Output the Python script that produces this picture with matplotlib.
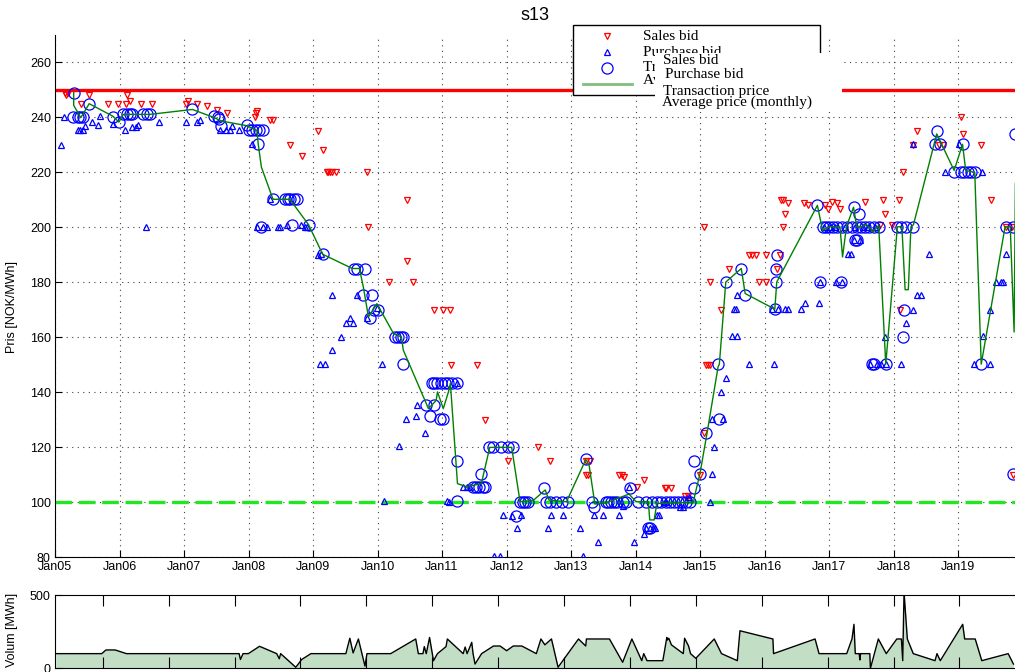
import matplotlib.pyplot as plt
from matplotlib.lines import Line2D
from matplotlib.patches import Rectangle

plt.rcParams['font.family'] = ['Liberation Sans', 'DejaVu Sans']

# salgsbud (år, pris)
sales_t = [2005.15, 2005.17, 2005.20, 2005.41, 2005.53, 2005.82, 2005.97, 2006.10, 2006.12, 2006.16,
           2006.34, 2006.50, 2007.03, 2007.06, 2007.20, 2007.35, 2007.51, 2007.67, 2008.10, 2008.12,
           2008.13, 2008.33, 2008.38, 2008.65, 2008.83, 2009.08, 2009.16, 2009.21, 2009.24, 2009.27,
           2009.30, 2009.35, 2009.83, 2009.86, 2010.18, 2010.46, 2010.46, 2010.55, 2010.88, 2011.02,
           2011.12, 2011.14, 2011.55, 2011.66, 2012.03, 2012.49, 2012.67, 2013.23, 2013.29, 2013.23,
           2013.26, 2013.75, 2013.79, 2013.82, 2014.02, 2014.13, 2014.45, 2014.48, 2014.55, 2014.77,
           2014.81, 2015.00, 2015.06, 2015.10, 2015.13, 2015.15, 2015.06, 2015.16, 2015.33, 2015.45,
           2015.76, 2015.80, 2015.87, 2016.02, 2015.92, 2016.03, 2016.19, 2016.24, 2016.25, 2016.29,
           2016.36, 2016.32, 2016.28, 2016.61, 2016.68, 2016.94, 2016.99, 2017.04, 2017.12, 2017.17,
           2017.56, 2017.79, 2017.84, 2017.87, 2017.97, 2018.09, 2018.10, 2018.14, 2018.31, 2018.37,
           2018.71, 2018.76, 2019.04, 2019.07, 2019.36, 2019.51, 2019.75, 2019.83, 2019.85]
sales_p = [249, 248, 249, 245, 248, 245, 245, 245, 248, 246,
           245, 245, 245, 246, 245, 244, 242.8, 241.7, 240, 241.7,
           242.2, 239, 239, 229.8, 225.8, 235, 228, 220, 220, 220,
           220, 220, 220, 200, 180, 209.8, 187.7, 180, 170, 170,
           170, 150, 150, 130, 115, 120, 115, 115, 115, 110,
           110, 110, 110, 109, 105.6, 108, 105, 105, 105, 102.3,
           102.3, 110, 125, 150, 150, 150, 200, 180, 170, 185,
           190, 190, 190, 190, 180, 180, 185, 190, 210, 210,
           208.8, 205, 200, 208.8, 208, 208, 206.8, 209.2, 208.8, 206.8,
           209.2, 201, 210, 205, 201, 210, 170, 220, 230, 235,
           230, 230, 240, 234, 230, 210, 200, 200, 110]

# kjøpsbud
purch_t = [2005.10, 2005.14, 2005.36, 2005.39, 2005.43, 2005.47, 2005.57, 2005.67, 2005.69, 2005.90,
           2006.09, 2006.19, 2006.26, 2006.29, 2006.41, 2006.62, 2007.03, 2007.20, 2007.25, 2007.56,
           2007.65, 2007.72, 2007.74, 2007.86, 2008.05, 2008.13, 2008.23, 2008.28, 2008.33, 2008.46,
           2008.49, 2008.59, 2008.82, 2008.88, 2008.90, 2009.08, 2009.12, 2009.11, 2009.19, 2009.29,
           2009.30, 2009.44, 2009.51, 2009.58, 2009.62, 2009.68, 2009.83, 2009.99, 2010.07, 2010.10,
           2010.34, 2010.44, 2010.60, 2010.61, 2010.73, 2011.07, 2011.11, 2011.24, 2011.33, 2011.38,
           2011.43, 2011.80, 2011.90, 2011.95, 2012.09, 2012.17, 2012.23, 2012.65, 2012.69, 2012.88,
           2013.14, 2013.18, 2013.35, 2013.42, 2013.49, 2013.75, 2013.81, 2013.90, 2013.98, 2014.13,
           2014.17, 2014.22, 2014.27, 2014.30, 2014.33, 2014.36, 2014.46, 2014.48, 2014.69, 2014.73,
           2014.83, 2015.15, 2015.18, 2015.22, 2015.18, 2015.36, 2015.32, 2015.40, 2015.76, 2016.14,
           2015.49, 2015.57, 2015.52, 2015.56, 2015.58, 2016.11, 2016.21, 2016.32, 2016.37, 2016.56,
           2016.63, 2016.85, 2016.86, 2017.11, 2017.20, 2017.30, 2017.34, 2017.38, 2017.48, 2017.87,
           2017.64, 2017.74, 2017.81, 2017.88, 2018.11, 2018.19, 2018.31, 2018.36, 2018.43, 2018.55,
           2018.80, 2019.02, 2018.31, 2019.37, 2019.50, 2019.39, 2019.25, 2019.50, 2019.59, 2019.66,
           2019.70, 2019.74, 2016.92, 2017.02, 2017.10, 2017.25, 2017.41, 2017.52, 2017.60, 2017.72]
purch_p = [230, 240, 235.3, 235.3, 235.5, 236.7, 238.3, 237.3, 240.4, 237.7,
           235.3, 236.5, 236.5, 237.3, 200.2, 238.3, 238.3, 238.3, 239.2, 235.5,
           235.3, 235.3, 237, 235.3, 230.2, 200.2, 200.2, 200.2, 210.2, 200,
           200, 201, 201, 200.2, 200.2, 190, 190.2, 150.4, 150.4, 155.5,
           175.3, 160.2, 165.3, 167.1, 165.3, 175.3, 167.1, 170.7, 150.4, 100.5,
           120.4, 130.2, 131.4, 135.3, 125.3, 100.5, 100.1, 143.2, 105.6, 105.6,
           105.6, 80.4, 80.4, 95.3, 95, 90.4, 95.3, 90.4, 95.3, 95.3,
           90.4, 80.4, 95.3, 85.6, 95.3, 95.3, 98.7, 105.6, 85.6, 88.4,
           90.4, 90.4, 90.4, 90.4, 95.3, 95.3, 100.1, 100.1, 98.3, 98.3,
           101.7, 100.1, 110.2, 120.1, 130.2, 130.2, 140.1, 145.3, 150.2, 150.2,
           160.4, 160.4, 170.2, 170.2, 175.3, 170.2, 170.2, 170.2, 170.2, 170.2,
           172.3, 172.3, 180.1, 180.1, 180.1, 190.2, 190.2, 195.3, 195.3, 160.1,
           150.2, 150.2, 150.2, 150.2, 150.2, 165.2, 170, 175.3, 175.3, 190.2,
           220, 230.2, 230.2, 220, 170, 160.4, 150.2, 150.2, 180.1, 180.1,
           180.1, 190.2, 200, 200, 200, 200, 200, 200, 200, 200]

# transaksjoner
trans_t = [2005.29, 2005.28, 2005.36, 2005.39, 2005.43, 2005.53, 2005.90, 2005.99, 2006.05, 2006.11,
           2006.17, 2006.20, 2006.36, 2006.42, 2006.48, 2007.13, 2007.47, 2007.52, 2007.55, 2007.58,
           2007.97, 2008.00, 2008.06, 2008.12, 2008.16, 2008.23, 2008.15, 2008.20, 2008.38, 2008.57,
           2008.61, 2008.65, 2008.70, 2008.75, 2008.68, 2008.94, 2009.15, 2009.64, 2009.68, 2009.81,
           2009.77, 2009.92, 2009.88, 2009.95, 2010.01, 2010.27, 2010.32, 2010.36, 2010.40, 2010.39,
           2010.75, 2010.88, 2010.81, 2010.97, 2011.02, 2010.84, 2010.88, 2010.93, 2010.98, 2011.05,
           2011.10, 2011.16, 2011.24, 2011.23, 2011.23, 2011.48, 2011.53, 2011.58, 2011.63, 2011.67,
           2011.60, 2011.73, 2011.79, 2011.92, 2012.02, 2012.10, 2012.14, 2012.21, 2012.25, 2012.29,
           2012.34, 2012.58, 2012.62, 2012.67, 2012.77, 2012.86, 2012.96, 2013.23, 2013.33, 2013.36,
           2013.54, 2013.58, 2013.62, 2013.67, 2013.72, 2013.80, 2013.86, 2013.91, 2014.04, 2014.20,
           2014.23, 2014.17, 2014.26, 2014.33, 2014.40, 2014.47, 2014.54, 2014.60, 2014.66, 2014.72,
           2014.78, 2014.85, 2014.91, 2014.91, 2015.00, 2015.10, 2015.28, 2015.30, 2015.40, 2015.64,
           2015.69, 2016.16, 2016.18, 2016.18, 2016.19, 2016.82, 2016.86, 2016.90, 2016.95, 2017.00,
           2017.06, 2017.13, 2017.20, 2017.28, 2017.36, 2017.43, 2017.50, 2017.56, 2017.62, 2017.70,
           2017.77, 2017.38, 2017.47, 2017.40, 2017.44, 2017.19, 2017.66, 2017.70, 2017.88, 2018.06,
           2018.12, 2018.19, 2018.31, 2018.17, 2018.15, 2018.64, 2018.67, 2018.72, 2018.94, 2019.07,
           2019.04, 2019.09, 2019.15, 2019.20, 2019.26, 2019.36, 2019.75, 2019.86, 2019.88, 2019.85]
trans_p = [249, 240.1, 240.1, 240.1, 240.1, 245, 240.1, 238.3, 241.1, 241.1,
           241.1, 241.1, 241.1, 241.1, 241.1, 243.1, 240.4, 240.1, 239.5, 236.7,
           237.3, 235.3, 235.3, 235.3, 235.3, 235.3, 230.2, 200.2, 210.2, 210.2,
           210.2, 210.2, 210.2, 210.2, 201, 201, 190.2, 185, 185, 185,
           175.3, 175.3, 167.1, 170, 170, 160.1, 160.1, 160.1, 160.1, 150.2,
           135.3, 135.3, 131.4, 130.2, 130.2, 143.2, 143.2, 143.2, 143.2, 143.2,
           143.2, 143.2, 143.2, 115, 100.5, 105.3, 105.3, 105.3, 105.3, 105.3,
           110.2, 120.1, 120.1, 120.1, 120.1, 120.1, 95, 100.1, 100.1, 100.1,
           100.1, 105.2, 100.1, 100.1, 100.1, 100.1, 100.1, 115.5, 100.1, 98.3,
           100.1, 100.1, 100.1, 100.1, 100.1, 100.1, 100.1, 105.2, 100.1, 90.4,
           90.4, 100.1, 100.1, 100.1, 100.1, 100.1, 100.1, 100.1, 100.1, 100.1,
           100.1, 100.1, 105, 115, 110.2, 125.2, 150.2, 130.2, 180.1, 185,
           175.3, 170.2, 180.1, 185, 190, 208, 180, 200.2, 200.2, 200.2,
           200.2, 200.2, 200.2, 200.2, 200.2, 200.2, 200.2, 200.2, 200.2, 200.2,
           200.2, 207.3, 205, 195.3, 195.3, 180, 150.2, 150.2, 150.2, 200.2,
           200.2, 200.2, 200.2, 170, 160.1, 230.2, 235, 230.2, 220, 230.2,
           220, 220, 220, 220, 220, 150.2, 200.2, 200.2, 234, 110.2]

# gjennomsnittspris (måned)
avg_t = [2005.29, 2005.29, 2005.40, 2005.53, 2005.90, 2005.99, 2006.06, 2006.47, 2007.13, 2007.45,
         2007.58, 2007.97, 2008.13, 2008.15, 2008.20, 2008.38, 2008.64, 2008.93, 2009.15, 2009.61,
         2009.72, 2009.78, 2009.86, 2009.99, 2010.25, 2010.37, 2010.40, 2010.79, 2010.91, 2010.93,
         2011.02, 2011.10, 2011.13, 2011.24, 2011.38, 2011.61, 2011.74, 2012.08, 2012.21, 2012.42,
         2012.60, 2012.66, 2012.93, 2013.23, 2013.28, 2013.37, 2013.54, 2013.90, 2014.01, 2014.20,
         2014.22, 2014.29, 2014.33, 2014.90, 2014.92, 2015.00, 2015.11, 2015.28, 2015.30, 2015.40,
         2015.64, 2015.70, 2016.16, 2016.19, 2016.82, 2016.90, 2017.01, 2017.17, 2017.21, 2017.27,
         2017.38, 2017.43, 2017.50, 2017.58, 2017.68, 2017.77, 2017.88, 2018.06, 2018.13, 2018.18,
         2018.23, 2018.27, 2018.31, 2018.67, 2018.94, 2019.07, 2019.12, 2019.26, 2019.36, 2019.73,
         2019.81, 2019.87, 2019.89]
avg_p = [249, 244.4, 239.9, 245, 240.4, 238.3, 241.1, 241.1, 242.9, 240.1,
         238.7, 237, 235.3, 230.4, 221.9, 210.2, 210.2, 201, 190.2, 185,
         185, 178.3, 167.4, 172.2, 161.3, 160.1, 155.3, 134, 137, 140.1,
         134, 140.1, 143.2, 106.7, 105.6, 106.7, 119.9, 119.9, 100.1, 100.7,
         104.4, 100.7, 100.1, 115.5, 113.5, 99.3, 99.7, 102.9, 100.1, 100.1,
         93.5, 93.5, 99.5, 99.9, 102.5, 110.4, 125.2, 149.2, 150.2, 180.1,
         185, 175.9, 170.2, 180.1, 208, 198.9, 200.2, 200.2, 189.2, 200.2,
         207.3, 200.2, 200.2, 201, 198.3, 200.7, 150.2, 200.2, 200.2, 177.3,
         177.3, 200.2, 201, 234, 220.7, 230.2, 220.7, 220, 150.2, 200.2,
         200.2, 161.9, 216]

# volum
vol_t = [2005.29, 2005.985, 2006.05, 2006.19, 2006.36, 2008.07, 2008.09, 2008.13, 2008.21, 2008.38,
         2008.64, 2008.68, 2008.70, 2008.93, 2009.02, 2009.16, 2009.69, 2009.75, 2009.80, 2009.88,
         2009.98, 2010.01, 2010.37, 2010.75, 2010.79, 2010.86, 2010.88, 2010.91, 2010.96, 2011.02,
         2011.08, 2011.21, 2011.23, 2011.47, 2011.50, 2011.53, 2011.60, 2011.62, 2011.65, 2011.75,
         2011.93, 2012.03, 2012.13, 2012.23, 2012.36, 2012.58, 2012.65, 2012.71, 2012.81, 2012.91,
         2013.22, 2013.33, 2013.34, 2013.69, 2013.89, 2014.03, 2014.18, 2014.21, 2014.26, 2014.50,
         2014.56, 2014.57, 2014.59, 2014.63, 2014.81, 2014.83, 2014.89, 2014.92, 2015.00, 2015.28,
         2015.39, 2015.63, 2015.67, 2016.17, 2016.18, 2016.81, 2016.87, 2017.29, 2017.37, 2017.40,
         2017.42, 2017.48, 2017.49, 2017.50, 2017.64, 2017.65, 2017.77, 2017.89, 2018.05, 2018.12,
         2018.14, 2018.16, 2018.21, 2018.30, 2018.63, 2018.66, 2018.71, 2019.05, 2019.08, 2019.24,
         2019.34, 2019.74, 2019.82]
vol_v = [100, 100, 125, 125, 100, 100, 60, 100, 100, 150,
         100, 65, 100, 7, 60, 100, 100, 205, 105, 200,
         15, 100, 100, 200, 100, 100, 148, 100, 210, 52,
         100, 148, 200, 100, 145, 100, 177, 100, 29, 100,
         152, 152, 120, 152, 152, 100, 200, 160, 200, 7,
         200, 152, 200, 200, 41, 200, 52, 100, 52, 52,
         210, 193, 205, 160, 100, 205, 152, 100, 68, 200,
         100, 52, 256, 200, 100, 200, 100, 100, 200, 300,
         100, 100, 57, 100, 100, 0, 200, 100, 200, 200,
         52, 520, 200, 100, 52, 100, 52, 300, 200, 200,
         52, 100, 29]

years = list(range(2005, 2020))
year_labels = ['Jan%02d' % (y - 2000) for y in years]
price_ticks = list(range(80, 261, 20))

fig = plt.figure(figsize=(10.15, 6.72), dpi=100)
W, H = 1015.0, 672.0

ax = fig.add_axes([55 / W, 115 / H, 967 / W, 522 / H])
ax.plot(sales_t, sales_p, 'v', ms=5, mfc='none', mec='red', mew=0.9, zorder=3)
ax.plot(purch_t, purch_p, '^', ms=5, mfc='none', mec='blue', mew=0.9, zorder=3)
ax.plot(trans_t, trans_p, 'o', ms=8, mfc='none', mec='blue', mew=0.9, zorder=4)
ax.plot(avg_t, avg_p, '-', color='#008000', lw=1, zorder=5)
ax.axhline(250, color='red', lw=2.4, zorder=2)
ax.axhline(100, color='#22e622', lw=2.4, dashes=(5, 2), zorder=2)

ax.set_xlim(2005, 2005 + 967 / 64.5)
ax.set_ylim(80, 270)
ax.set_xticks(years)
ax.set_xticklabels(year_labels)
ax.set_yticks(price_ticks)
ax.grid(True, linestyle=(0, (1, 4)), color='#444444', lw=0.8)
ax.tick_params(direction='in', length=5, labelsize=9, pad=3)
ax.spines['top'].set_visible(False)
ax.spines['right'].set_visible(False)
ax.set_ylabel('Pris [NOK/MWh]', fontsize=9)
ax.yaxis.set_label_coords(-37 / 967, 0.479)

# volum-panel
ax2 = fig.add_axes([55 / W, 3.7 / H, 967 / W, 73.3 / H])
ax2.fill_between(vol_t, vol_v, 0, color='#c2dfc6', lw=0)
ax2.plot(vol_t, vol_v, '-', color='black', lw=1)
ax2.set_xlim(2006 - 47.7 / 65.9, 2006 + 919.3 / 65.9)
ax2.set_ylim(0, 500)
ax2.set_xticks(years[1:])
ax2.set_xticklabels([])
ax2.set_yticks([0, 500])
ax2.tick_params(direction='in', length=8, labelsize=9, top=True, pad=3)
ax2.tick_params(axis='y', length=5)
ax2.set_ylabel('Volum [MWh]', fontsize=9)
ax2.yaxis.set_label_coords(-37 / 967, 0.52)

fig.text(535 / W, 1 - 15 / H, 's13', ha='center', va='center', fontsize=13)

# legende (to overlappende bokser som i originalen)
serif = ['Liberation Serif', 'DejaVu Serif']
tf = fig.transFigure
fig.add_artist(Rectangle((573 / W, 1 - 95 / H), 247 / W, 70 / H, transform=tf,
                         facecolor='white', edgecolor='black', lw=1, zorder=5))
fig.add_artist(Line2D([607 / W], [1 - 36 / H], marker='v', ms=5, mfc='none', mec='red',
                      mew=0.9, transform=tf, zorder=6))
fig.add_artist(Line2D([607 / W], [1 - 52 / H], marker='^', ms=5, mfc='none', mec='blue',
                      mew=0.9, transform=tf, zorder=6))
fig.add_artist(Line2D([607 / W], [1 - 68 / H], marker='o', ms=8, mfc='none', mec='blue',
                      mew=0.9, transform=tf, zorder=6))
fig.add_artist(Line2D([583 / W, 632 / W], [1 - 84 / H] * 2, color='#7fbf7f', lw=2,
                      transform=tf, zorder=6))
labels = ['Sales bid', 'Purchase bid', 'Transaction price', 'Average price (monthly)']
for lab, py in zip(labels, [36, 52, 68, 80]):
    fig.text(643 / W, 1 - py / H, lab, ha='left', va='center', fontsize=11,
             family=serif, zorder=6)
fig.add_artist(Rectangle((655 / W, 1 - 112 / H), 187 / W, 59 / H, transform=tf,
                         facecolor='white', edgecolor='none', zorder=7))
for lab, px, py in zip(labels, [663, 665, 663, 662], [60, 74, 91, 102]):
    fig.text(px / W, 1 - py / H, lab, ha='left', va='center', fontsize=11,
             family=serif, zorder=8)

fig.savefig('out.png', dpi=100)
